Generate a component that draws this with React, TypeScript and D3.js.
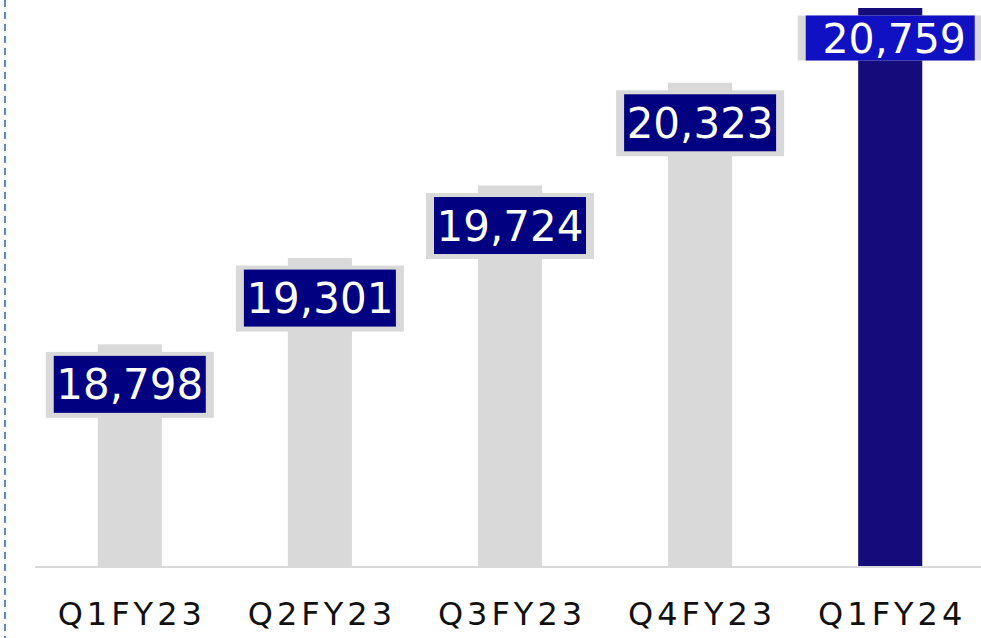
import * as d3 from "d3";
import React from "react";

const quarters = ["Q1FY23", "Q2FY23", "Q3FY23", "Q4FY23", "Q1FY24"];
const values = [18798, 19301, 19724, 20323, 20759];
const axisMin = 17500;

const W = 981;
const H = 638;
const baseY = 567;

export default function App() {
  const x = d3.scaleBand().domain(quarters).range([35, 985]).paddingInner(0.663).paddingOuter(0.33);
  const y = d3.scaleLinear().domain([axisMin, d3.max(values) as number]).range([baseY, 8]);
  const fmt = d3.format(",");
  const last = quarters.length - 1;

  return (
    <div style={{ position: "absolute", left: 0, top: 0 }}>
      <svg width={W} height={H} style={{ display: "block" }}>
        <rect width={W} height={H} fill="#ffffff" />
        {/* dashed guide on the left */}
        <line x1={5} x2={5} y1={0} y2={H} stroke="#5b8cce" strokeWidth={2} strokeDasharray="7 5" />

        {/* bars */}
        {quarters.map((q, i) => (
          <rect
            key={q}
            x={x(q)}
            y={y(values[i])}
            width={x.bandwidth()}
            height={baseY - y(values[i])}
            fill={i === last ? "#150c7b" : "#d9d9d9"}
          />
        ))}

        {/* baseline */}
        <line x1={35} x2={W} y1={baseY} y2={baseY} stroke="#d9d9d9" strokeWidth={2} />

        {/* value labels */}
        {quarters.map((q, i) => {
          const cx = (x(q) as number) + x.bandwidth() / 2;
          const top = y(values[i]);
          const hi = i === last;
          const bw = hi ? 169 : 152;
          const bh = hi ? 45 : 57;
          const cy = hi ? top + 30 : top + 40;
          return (
            <g key={"l" + q}>
              <rect
                x={cx - bw / 2 - 8}
                y={hi ? cy - bh / 2 : cy - bh / 2 - 4}
                width={bw + 16}
                height={hi ? bh : bh + 9}
                fill="#d9d9d9"
              />
              <rect x={cx - bw / 2} y={cy - bh / 2} width={bw} height={bh} fill={hi ? "#1111c4" : "#000080"} />
              <text
                x={hi ? cx + 4 : cx}
                y={cy + 15}
                textAnchor="middle"
                fill="#ffffff"
                fontFamily="DejaVu Sans"
                fontSize={hi ? 41 : 42}
              >
                {fmt(values[i])}
              </text>
            </g>
          );
        })}

        {/* category labels */}
        {quarters.map((q) => (
          <text
            key={"c" + q}
            x={(x(q) as number) + x.bandwidth() / 2 + 2}
            y={625}
            textAnchor="middle"
            fill="#111111"
            fontFamily="DejaVu Sans"
            fontSize={32}
            letterSpacing={4}
          >
            {q}
          </text>
        ))}
      </svg>
    </div>
  );
}
